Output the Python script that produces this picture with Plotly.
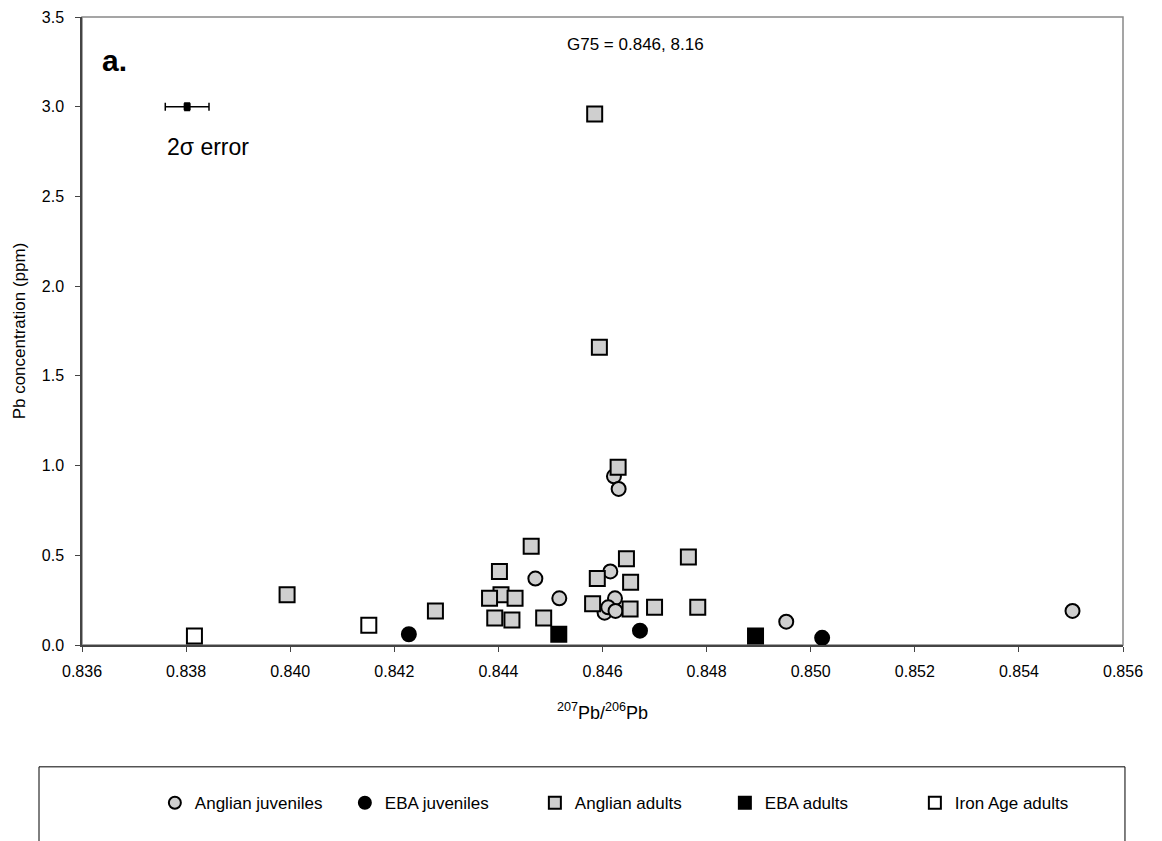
import plotly.graph_objects as go

# Data
ang_juv_x = [0.84471, 0.84517, 0.84615, 0.84624, 0.84604, 0.84611, 0.84625, 0.84622, 0.84631, 0.84953, 0.85503]
ang_juv_y = [0.37, 0.26, 0.41, 0.26, 0.18, 0.21, 0.19, 0.94, 0.87, 0.13, 0.19]

eba_juv_x = [0.84228, 0.84672, 0.85022]
eba_juv_y = [0.06, 0.08, 0.04]

ang_ad_x = [0.83994, 0.84279, 0.84463, 0.84402, 0.84405, 0.84383, 0.84432, 0.84393, 0.84426, 0.84487,
            0.84646, 0.84590, 0.84654, 0.84581, 0.84653, 0.84765, 0.84700, 0.84783, 0.84630, 0.84585, 0.84594]
ang_ad_y = [0.28, 0.19, 0.55, 0.41, 0.28, 0.26, 0.26, 0.15, 0.14, 0.15,
            0.48, 0.37, 0.35, 0.23, 0.20, 0.49, 0.21, 0.21, 0.99, 2.96, 1.66]

eba_ad_x = [0.84516, 0.84894]
eba_ad_y = [0.06, 0.05]

iron_ad_x = [0.83816, 0.84151]
iron_ad_y = [0.05, 0.11]

err_x = [0.83802]
err_y = [3.0]
err_dx = [0.00042]
err_dy = [0.02]

x_ticks = [0.836, 0.838, 0.840, 0.842, 0.844, 0.846, 0.848, 0.850, 0.852, 0.854, 0.856]
y_ticks = [0.0, 0.5, 1.0, 1.5, 2.0, 2.5, 3.0, 3.5]

FONT = "Liberation Sans, Arial, sans-serif"
GRAY = "#cfcfcf"

fig = go.Figure()

def add(xs, ys, name, symbol, fill):
    fig.add_trace(go.Scatter(
        x=xs, y=ys, mode="markers", name=name,
        marker=dict(symbol=symbol, size=14 if symbol == "circle" else 15, color=fill,
                    line=dict(color="black", width=2)),
    ))

add(ang_juv_x, ang_juv_y, "Anglian juveniles", "circle", GRAY)
add(eba_juv_x, eba_juv_y, "EBA juveniles", "circle", "black")
add(ang_ad_x, ang_ad_y, "Anglian adults", "square", GRAY)
add(eba_ad_x, eba_ad_y, "EBA adults", "square", "black")
add(iron_ad_x, iron_ad_y, "Iron Age adults", "square", "white")

fig.add_trace(go.Scatter(
    x=err_x, y=err_y, mode="markers", showlegend=False,
    marker=dict(symbol="square", size=7, color="black"),
    error_x=dict(type="data", array=err_dx, color="black", thickness=1.5, width=4),
    error_y=dict(type="data", array=err_dy, color="black", thickness=2, width=3),
))

fig.update_layout(
    width=1162, height=841,
    margin=dict(l=74, r=47, t=9, b=204),
    paper_bgcolor="white", plot_bgcolor="white",
    font=dict(family=FONT, size=16, color="black"),
    showlegend=True,
    legend=dict(orientation="h", x=0.07, y=-0.252, xanchor="left", yanchor="middle",
                font=dict(family=FONT, size=17, color="black"),
                entrywidth=145, entrywidthmode="pixels",
                itemsizing="constant", bgcolor="rgba(0,0,0,0)"),
    xaxis=dict(range=[0.836, 0.856], tickvals=x_ticks, tickformat=".3f", automargin=False,
               showgrid=False, zeroline=False, showline=True, linecolor="#444", linewidth=1.5,
               ticks="outside", ticklen=5, tickcolor="#444", ticklabelstandoff=6,
               tickfont=dict(size=16),
               title=dict(text="<sup>207</sup>Pb/<sup>206</sup>Pb", font=dict(size=18), standoff=27)),
    yaxis=dict(range=[0, 3.5], tickvals=y_ticks, tickformat=".1f", automargin=False,
               showgrid=False, zeroline=False, showline=True, linecolor="#444", linewidth=1.5,
               ticks="outside", ticklen=5, tickcolor="#444", ticklabelstandoff=8,
               tickfont=dict(size=16),
               title=dict(text="Pb concentration (ppm)", font=dict(size=17), standoff=12)),
    shapes=[
        dict(type="rect", xref="paper", yref="paper", x0=0, x1=1, y0=0, y1=1,
             line=dict(color="#888", width=1.5), layer="below"),
        dict(type="rect", xref="paper", yref="paper", x0=-0.0413, x1=1.0019, y0=-0.34, y1=-0.194,
             line=dict(color="black", width=1)),
    ],
    annotations=[
        dict(text="<b>a.</b>", xref="paper", yref="paper", x=0.0317, y=0.93, showarrow=False,
             font=dict(size=30), xanchor="center", yanchor="middle"),
        dict(text="G75 = 0.846, 8.16", xref="paper", yref="paper", x=0.532, y=0.957, showarrow=False,
             font=dict(size=17), xanchor="center", yanchor="middle"),
        dict(text="2σ error", xref="x", yref="y", x=0.83842, y=2.773, showarrow=False,
             font=dict(size=23), xanchor="center", yanchor="middle"),
    ],
)

fig.write_html("out.html")
